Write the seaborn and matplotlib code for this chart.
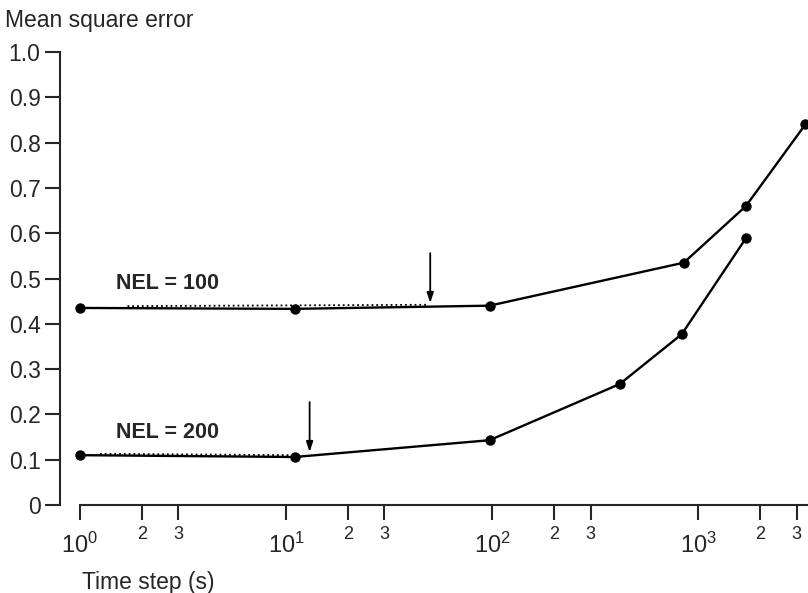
import matplotlib
matplotlib.use("Agg")
import numpy as np
import pandas as pd
import matplotlib.pyplot as plt
import seaborn as sns
from matplotlib.ticker import FixedLocator, FixedFormatter

# ── Data ─────────────────────────────────────────────────────────────────────
nel100_x = [1, 11, 97, 850, 1700, 3300]
nel100_y = [0.435, 0.433, 0.440, 0.535, 0.660, 0.840]
nel200_x = [1, 11, 97, 415, 830, 1700]
nel200_y = [0.110, 0.106, 0.143, 0.267, 0.377, 0.589]

# faint dotted traces over the flat part
dot100_x = [1.7, 48]
dot100_y = [0.439, 0.442]
dot200_x = [1.25, 10.5]
dot200_y = [0.113, 0.110]

# arrows (x, y_tip, y_tail)
arrow_x    = [50, 13]
arrow_tip  = [0.446, 0.117]
arrow_tail = [0.556, 0.227]

major_ticks  = [1, 10, 100, 1000]
major_labels = [r"$10^{0}$", r"$10^{1}$", r"$10^{2}$", r"$10^{3}$"]
minor_ticks  = [2, 3, 20, 30, 200, 300, 2000, 3000]
minor_labels = ["2", "3"] * 4
y_ticks  = [0, 0.1, 0.2, 0.3, 0.4, 0.5, 0.6, 0.7, 0.8, 0.9, 1.0]
y_labels = ["0", "0.1", "0.2", "0.3", "0.4", "0.5", "0.6", "0.7", "0.8", "0.9", "1.0"]

df = pd.DataFrame({
    "step": nel100_x + nel200_x,
    "mse":  nel100_y + nel200_y,
    "NEL":  ["100"] * len(nel100_x) + ["200"] * len(nel200_x),
})

# ── Style ────────────────────────────────────────────────────────────────────
sns.set_style("ticks")
plt.rcParams["font.family"] = ["Liberation Sans", "DejaVu Sans"]
plt.rcParams["mathtext.default"] = "regular"

fig = plt.figure(figsize=(8.08, 5.93), dpi=100)
ax = fig.add_axes([60 / 808, 88 / 593, 748 / 808, 453 / 593])

sns.lineplot(data=df, x="step", y="mse", hue="NEL", palette=["black", "black"],
             marker="o", markersize=7.5, markeredgewidth=0, linewidth=1.7,
             estimator=None, sort=False, legend=False, ax=ax, clip_on=False)

ax.plot(dot100_x, dot100_y, color="black", linestyle=":", linewidth=1.3)
ax.plot(dot200_x, dot200_y, color="black", linestyle=":", linewidth=1.3)

for xa, yt, yb in zip(arrow_x, arrow_tip, arrow_tail):
    ax.annotate("", xy=(xa, yt), xytext=(xa, yb),
                arrowprops=dict(arrowstyle="-|>,head_length=0.6,head_width=0.2",
                                color="black", lw=1.3, shrinkA=0, shrinkB=0))

ax.text(1.5, 0.49, "NEL = 100", fontsize=15.5, fontweight="bold", va="center")
ax.text(1.5, 0.161, "NEL = 200", fontsize=15.5, fontweight="bold", va="center")

# ── Axes ─────────────────────────────────────────────────────────────────────
ax.set_xscale("log")
ax.set_xlim(0.8, 3400)
ax.set_ylim(0, 1.0)
ax.set_xlabel(""); ax.set_ylabel("")

ax.xaxis.set_major_locator(FixedLocator(major_ticks))
ax.xaxis.set_major_formatter(FixedFormatter(major_labels))
ax.xaxis.set_minor_locator(FixedLocator(minor_ticks))
ax.xaxis.set_minor_formatter(FixedFormatter(minor_labels))
ax.set_yticks(y_ticks)
ax.set_yticklabels(y_labels)

ax.tick_params(axis="x", which="major", length=11, width=1.5, labelsize=17, pad=9)
ax.tick_params(axis="x", which="minor", length=11, width=1.5, labelsize=13, pad=4)
ax.tick_params(axis="y", length=11, width=1.5, labelsize=16.5, pad=3)

for s in ["top", "right"]:
    ax.spines[s].set_visible(False)
ax.spines["left"].set_bounds(0, 1.0)
ax.spines["bottom"].set_bounds(1, 3400)
ax.spines["left"].set_linewidth(1.5)
ax.spines["bottom"].set_linewidth(1.5)

fig.text(5 / 808, 1 - 20 / 593, "Mean square error", fontsize=16.5, va="center")
fig.text(82 / 808, 1 - 582 / 593, "Time step (s)", fontsize=16.5, va="center")

fig.savefig("out.png", dpi=100)
